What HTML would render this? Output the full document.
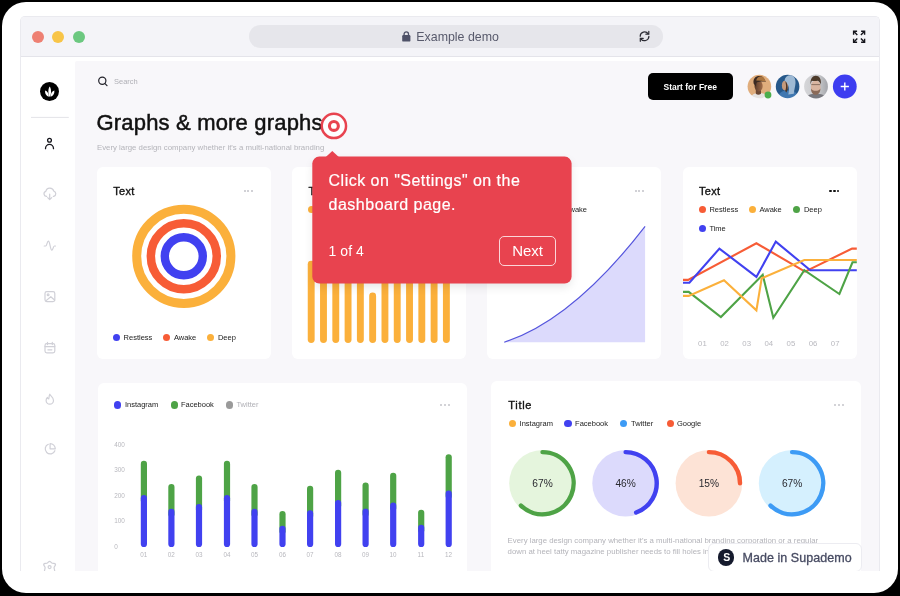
<!DOCTYPE html>
<html><head><meta charset="utf-8">
<style>
*{margin:0;padding:0;box-sizing:border-box}
html,body{width:900px;height:596px;overflow:hidden;background:#000;font-family:"Liberation Sans",sans-serif;}
#stage{position:absolute;left:2px;top:2.300px;width:896.200px;height:590.700px;background:#fff;border-radius:24px;}
#win{position:absolute;left:20px;top:16px;width:859.500px;height:555px;background:#fff;border:1px solid #eaeaef;border-bottom:none;border-radius:5px 5px 0 0;overflow:hidden;}
#bar{position:absolute;left:0;top:0;width:100%;height:40px;background:#f4f4f8;border-bottom:1px solid #e4e4ea;}
#main{position:absolute;left:54.200px;top:43.800px;width:810px;height:520px;background:#f8f7fa;border-radius:2px 0 0 0;}
.card{position:absolute;background:#fff;}
.t{position:absolute;white-space:nowrap;line-height:1}
svg{position:absolute;left:0;top:0;overflow:visible}
#layer{position:absolute;left:0;top:0;width:900px;height:571px;overflow:hidden;will-change:transform}
</style></head><body>
<div id="stage"></div>
<div id="win"><div id="bar"></div><div id="main"></div></div>
<div id="layer">

<div style="position:absolute;left:32.2px;top:30.6px;width:12px;height:12px;border-radius:50%;background:#ee8073"></div>
<div style="position:absolute;left:52.4px;top:30.6px;width:12px;height:12px;border-radius:50%;background:#f8c548"></div>
<div style="position:absolute;left:72.5px;top:30.6px;width:12px;height:12px;border-radius:50%;background:#6cc880"></div>
<div style="position:absolute;left:249px;top:25px;width:413.5px;height:22.7px;border-radius:11.4px;background:#e6e6eb"></div>
<div class="t" style="left:416.3px;top:30.9px;font-size:12.4px;color:#585a6c;font-weight:normal;letter-spacing:0px;">Example demo</div>
<svg width="900" height="596"><g fill="#4f5268"><rect x="402.2" y="35" width="8.200" height="6.600" rx="1.200"/><path d="M404.100 35.500v-1.400a2.200 2.200 0 0 1 4.400 0v1.400" fill="none" stroke="#4f5268" stroke-width="1.300"/></g><g fill="none" stroke="#2b2b33" stroke-width="1.200" stroke-linecap="round"><path d="M640.200 36.300a4.400 4.400 0 0 1 8-2.500"/><path d="M648.900 36.300a4.400 4.400 0 0 1-8 2.500"/><path d="M648.800 31.300v2.900h-2.900"/><path d="M640.300 41.300v-2.900h2.900"/></g><g fill="none" stroke="#15151c" stroke-width="1.400" transform="translate(0.100 0.700)"><path d="M853.500 34v-3.500h3.500M864.500 34v-3.500h-3.500M853.500 38v3.500h3.500M864.500 38v3.500h-3.500"/><path d="M853.800 30.800l3.400 3.400M864.200 30.800l-3.400 3.400M853.800 41.200l3.400-3.400M864.200 41.200l-3.400-3.400"/></g></svg>
<div style="position:absolute;left:40.2px;top:82.1px;width:19.0px;height:19.0px;border-radius:50%;background:#000"></div>
<svg width="900" height="596"><g fill="#fff"><path d="M49.700 86.400C51.500 89 51.500 94 49.700 97.100C47.900 94 47.900 89 49.700 86.400Z"/><path d="M45 90.400Q48.800 91.600 48.900 96.700Q44.800 95.300 45 90.400Z"/><path d="M54.400 90.400Q50.600 91.600 50.500 96.700Q54.600 95.300 54.400 90.400Z"/></g><line x1="31" y1="117.400" x2="68.800" y2="117.400" stroke="#e3e3e8" stroke-width="1"/><g fill="none" stroke="#15151c" stroke-width="1.300" stroke-linecap="round"><circle cx="49.500" cy="140.200" r="1.900"/><path d="M45.500 148.700a4 4.300 0 0 1 8 0"/></g><g fill="none" stroke="#d0d0d7" stroke-width="1.200" stroke-linecap="round" stroke-linejoin="round" transform="translate(0.300 0.400)"><path d="M46.400 195.900h-0.300a2.500 2.500 0 0 1-0.600-4.900a4.100 4.100 0 0 1 8-0.300a2.700 2.700 0 0 1 0 5.200h-0.500"/><path d="M49.400 193.800v5.200M47.400 197.200l2 2l2-2"/><path d="M43.900 245.600h1.500c1.300 0 1.300-4.800 2.700-4.800c1.600 0 1.800 9 3.400 9c1.300 0 1.300-4.200 2.600-4.200h1.100"/><rect x="44.700" y="291.200" width="9.800" height="10" rx="1.800"/><circle cx="47.800" cy="294.400" r="0.900"/><path d="M45.500 300.500l5-4.200l4 3.500"/><rect x="44.700" y="343.200" width="9.800" height="9.300" rx="1.800"/><path d="M44.700 346.200h9.800M47.200 341.900v2.300M52 341.900v2.300M47.600 349.400h4"/><path d="M49.500 393.800c0.500 1.800 3.700 3 3.700 6.200a3.700 3.700 0 0 1-7.400 0c0-1.300 0.500-2.200 1.300-3c0.200 1 0.900 1.600 1.300 1.600c0.600-1.500 0.100-3.100 1.100-4.800z"/><path d="M54.600 450.300a5 5 0 1 1-6.600-6.400"/><path d="M49.800 443.200a5.200 5.200 0 0 1 5.200 5.200h-5.200z"/><path d="M49.300 560.900c1 0 1.400 1.600 2.600 2c1.200 0.400 3-0.400 3.300 1c0.200 1.500-1.500 2-1.400 3.400c0 1 0.600 2 0.600 3.400M49.300 560.900c-1 0-1.400 1.600-2.600 2c-1.200 0.400-3-0.400-3.300 1c-0.200 1.500 1.500 2 1.400 3.400c0 1-0.600 2-0.600 3.400"/><circle cx="49.300" cy="566.700" r="1.500"/></g></svg>
<svg width="900" height="596"><g fill="none" stroke="#22222a" stroke-width="1.200" stroke-linecap="round"><circle cx="102.300" cy="80.800" r="3.600"/><path d="M105 83.600l2 2"/></g></svg>
<div class="t" style="left:114px;top:77.5px;font-size:7.5px;color:#b0b0b6;font-weight:normal;letter-spacing:0px;">Search</div>
<div class="t" style="left:96.5px;top:112px;font-size:22px;color:#111;font-weight:normal;letter-spacing:0.18px;-webkit-text-stroke:0.5px #111;">Graphs &amp; more graphs</div>
<div class="t" style="left:97px;top:143.5px;font-size:7.8px;color:#b4b4ba;font-weight:normal;letter-spacing:0px;">Every large design company whether it's a multi-national branding</div>
<div style="position:absolute;left:648px;top:73.300px;width:85.400px;height:26.500px;border-radius:5px;background:#000"></div>
<div class="t" style="left:663.5px;top:82.5px;font-size:8.5px;color:#fff;font-weight:bold;letter-spacing:0px;">Start for Free</div>
<svg width="900" height="596"><defs><clipPath id="c1"><circle cx="759.400" cy="86.500" r="11.800"/></clipPath><clipPath id="c2"><circle cx="787.600" cy="86.500" r="11.800"/></clipPath><clipPath id="c3"><circle cx="816" cy="86.500" r="11.900"/></clipPath><filter id="bl" x="-20%" y="-20%" width="140%" height="140%"><feGaussianBlur stdDeviation="0.55"/></filter><linearGradient id="g3" x1="0" x2="1"><stop offset="0" stop-color="#d6d6d9"/><stop offset="0.6" stop-color="#c6c7ca"/><stop offset="1" stop-color="#9fa1a7"/></linearGradient><linearGradient id="g1" x1="0" x2="1"><stop offset="0" stop-color="#5a3a28"/><stop offset="1" stop-color="#a06c4a"/></linearGradient></defs><g clip-path="url(#c1)"><g filter="url(#bl)"><rect x="747" y="74" width="25" height="25" fill="#e0ad7c"/><path d="M750.500 99c0.500-4.500 4-6 8.500-6.300c4.500 0.300 8 1.800 8.500 6.300z" fill="#e6e3e0"/><path d="M755.800 89h5.200v4.800c-1.800 1.200-3.600 1.200-5.200 0z" fill="#6b4632"/><ellipse cx="758.600" cy="86" rx="4.100" ry="5.400" fill="url(#g1)"/><path d="M753.600 83.500c-0.800-4.800 2-7.400 5.600-7.400c3 0 5 1.500 5.600 4.200l1.200 1.500c-3-0.500-7-0.300-9 0.500c-0.800 0.400-0.800 3-1 4.500z" fill="#3a2a22"/><path d="M756.200 80.600c0.600-2.800 2.200-4.200 4.400-4.200c2.400 0 3.900 1.500 4.300 3.700l1.100 1.500c-3.200-0.600-6.600-0.900-9.800-1z" fill="#a9743f"/></g></g><g clip-path="url(#c2)"><g filter="url(#bl)"><rect x="775" y="74" width="26" height="26" fill="#27588a"/><path d="M777 99c1-5 4-7.500 8-8.500l8 0c3 1.500 5 4.500 5.500 8.500z" fill="#3f77b0"/><ellipse cx="785" cy="85.600" rx="3.100" ry="4.800" fill="#c49a7c"/><path d="M784.500 80.600c0.500-3.500 3-5.300 6-5.300c3.500 0.300 5.300 3.500 5 8c-0.300 4-1.500 7-1.700 10.500l-5.500 0.800c0.600-2.600 0.800-5 0.400-7.400c-0.400-2.600-2.300-4.600-4.200-6.600z" fill="#9db9d4"/><path d="M785.400 81c1.500 1.500 2.300 4 2.300 6.500c0 2-0.500 3.500-1.300 5l-1.200-1.500c0.800-2 1-4 0.800-6c-0.200-1.500-0.500-2.700-0.600-4z" fill="#4a3428"/></g></g><g clip-path="url(#c3)"><g filter="url(#bl)"><rect x="804" y="74" width="25" height="25" fill="url(#g3)"/><path d="M806 99c0.500-3 3-4.500 6-5h8c3 0.500 5.500 2 6 5z" fill="#77777d"/><ellipse cx="815.700" cy="87" rx="4.900" ry="6.600" fill="#d9b5a0"/><path d="M810.600 84.500c-0.600-5.500 2-8.800 5.200-8.800c3.400 0 5.800 3.300 5 8.800c-0.800-2.200-1.800-3.300-3-3.800c-2 0.300-4.500 0.300-6 0c-0.600 1-1 2.300-1.200 3.800z" fill="#4d3a2c"/><path d="M811 88.500c0.800 1.500 2.500 2.300 4.700 2.300s3.900-0.800 4.700-2.300c0 4-2 6.300-4.700 6.300s-4.700-2.300-4.700-6.300z" fill="#8a6a58"/><path d="M811.300 84.600h8.800" stroke="#6b5548" stroke-width="0.700" fill="none"/></g></g><circle cx="768" cy="95" r="3.400" fill="#4cae4c"/><circle cx="844.800" cy="86.500" r="11.900" fill="#3d3df0"/><path d="M844.800 82.400v8.200M840.700 86.500h8.200" stroke="#fff" stroke-width="1.400" fill="none"/></svg>
<div class="card" style="left:96.5px;top:167px;width:174.5px;height:191.5px;border-radius:6px"></div>
<div class="card" style="left:291.7px;top:167px;width:174.3px;height:191.5px;border-radius:6px"></div>
<div class="card" style="left:487px;top:167px;width:174.29999999999995px;height:191.5px;border-radius:6px"></div>
<div class="card" style="left:683px;top:167px;width:173.70000000000005px;height:191.5px;border-radius:6px"></div>
<div class="card" style="left:97.6px;top:382.6px;width:369.9px;height:197.39999999999998px;border-radius:6px"></div>
<div class="card" style="left:491px;top:381px;width:370.29999999999995px;height:199px;border-radius:6px"></div>
<div class="t" style="left:113.3px;top:186.2px;font-size:11px;color:#111;font-weight:normal;letter-spacing:0.3px;-webkit-text-stroke:0.35px #111;">Text</div>
<div style="position:absolute;left:243.54999999999998px;top:190.14999999999998px;width:2.1px;height:2.1px;border-radius:50%;background:#c2c2c9"></div>
<div style="position:absolute;left:247.35px;top:190.14999999999998px;width:2.1px;height:2.1px;border-radius:50%;background:#c2c2c9"></div>
<div style="position:absolute;left:251.14999999999998px;top:190.14999999999998px;width:2.1px;height:2.1px;border-radius:50%;background:#c2c2c9"></div>
<svg width="900" height="596"><g fill="none" stroke-width="9"><circle cx="183.800" cy="256.300" r="47.100" stroke="#fbb03b"/><circle cx="183.800" cy="256.300" r="32.950" stroke="#f75c36" stroke-width="8.500"/><circle cx="183.800" cy="256.300" r="19" stroke="#4141f0" stroke-width="8.400"/></g></svg>
<div style="position:absolute;left:112.5px;top:333.5px;width:7.4px;height:7.4px;border-radius:50%;background:#4141f0"></div>
<div class="t" style="left:123.6px;top:333.5px;font-size:7.5px;color:#222;font-weight:normal;letter-spacing:0px;">Restless</div>
<div style="position:absolute;left:162.8px;top:333.5px;width:7.4px;height:7.4px;border-radius:50%;background:#f75c36"></div>
<div class="t" style="left:173.9px;top:333.5px;font-size:7.5px;color:#222;font-weight:normal;letter-spacing:0px;">Awake</div>
<div style="position:absolute;left:207.10000000000002px;top:333.5px;width:7.4px;height:7.4px;border-radius:50%;background:#fbb03b"></div>
<div class="t" style="left:217.9px;top:333.5px;font-size:7.5px;color:#222;font-weight:normal;letter-spacing:0px;">Deep</div>
<div class="t" style="left:308.4px;top:186.2px;font-size:11px;color:#111;font-weight:normal;letter-spacing:0.3px;-webkit-text-stroke:0.35px #111;">Text</div>
<div style="position:absolute;left:307.8px;top:205.60000000000002px;width:7.4px;height:7.4px;border-radius:50%;background:#fbb03b"></div>
<svg width="900" height="596"><g stroke="#fbb03b" stroke-width="6.900" stroke-linecap="round"><line x1="311.20" y1="264.15" x2="311.20" y2="339.45"/><line x1="323.49" y1="258.45" x2="323.49" y2="339.45"/><line x1="335.78" y1="253.45" x2="335.78" y2="339.45"/><line x1="348.07" y1="261.45" x2="348.07" y2="339.45"/><line x1="360.36" y1="265.45" x2="360.36" y2="339.45"/><line x1="372.65" y1="295.95" x2="372.65" y2="339.45"/><line x1="384.94" y1="253.45" x2="384.94" y2="339.45"/><line x1="397.23" y1="258.45" x2="397.23" y2="339.45"/><line x1="409.52" y1="265.45" x2="409.52" y2="339.45"/><line x1="421.81" y1="261.45" x2="421.81" y2="339.45"/><line x1="434.10" y1="255.45" x2="434.10" y2="339.45"/><line x1="446.39" y1="263.45" x2="446.39" y2="339.45"/></g></svg>
<div class="t" style="left:564.6px;top:206px;font-size:7.5px;color:#222;font-weight:normal;letter-spacing:0px;">Awake</div>
<div style="position:absolute;left:634.5500000000001px;top:190.14999999999998px;width:2.1px;height:2.1px;border-radius:50%;background:#c2c2c9"></div>
<div style="position:absolute;left:638.35px;top:190.14999999999998px;width:2.1px;height:2.1px;border-radius:50%;background:#c2c2c9"></div>
<div style="position:absolute;left:642.1500000000001px;top:190.14999999999998px;width:2.1px;height:2.1px;border-radius:50%;background:#c2c2c9"></div>
<svg width="900" height="596"><path d="M504.200 342.200Q572.600 320.200 645.100 226.400V342.200z" fill="#dcdafc"/><path d="M504.200 342.200Q572.600 320.200 645.100 226.400" fill="none" stroke="#5555dd" stroke-width="1.200"/></svg>
<div class="t" style="left:699px;top:186.2px;font-size:11px;color:#111;font-weight:normal;letter-spacing:0.3px;-webkit-text-stroke:0.35px #111;">Text</div>
<div style="position:absolute;left:829.35px;top:189.95px;width:2.5px;height:2.5px;border-radius:50%;background:#111"></div>
<div style="position:absolute;left:833.15px;top:189.95px;width:2.5px;height:2.5px;border-radius:50%;background:#111"></div>
<div style="position:absolute;left:836.95px;top:189.95px;width:2.5px;height:2.5px;border-radius:50%;background:#111"></div>
<div style="position:absolute;left:698.5999999999999px;top:205.70000000000002px;width:7.4px;height:7.4px;border-radius:50%;background:#f75c36"></div>
<div class="t" style="left:709.4px;top:205.7px;font-size:7.5px;color:#222;font-weight:normal;letter-spacing:0px;">Restless</div>
<div style="position:absolute;left:748.6999999999999px;top:205.70000000000002px;width:7.4px;height:7.4px;border-radius:50%;background:#fbb03b"></div>
<div class="t" style="left:759.4px;top:205.7px;font-size:7.5px;color:#222;font-weight:normal;letter-spacing:0px;">Awake</div>
<div style="position:absolute;left:793.0999999999999px;top:205.70000000000002px;width:7.4px;height:7.4px;border-radius:50%;background:#4ea346"></div>
<div class="t" style="left:803.9px;top:205.7px;font-size:7.5px;color:#222;font-weight:normal;letter-spacing:0px;">Deep</div>
<div style="position:absolute;left:698.5999999999999px;top:224.70000000000002px;width:7.4px;height:7.4px;border-radius:50%;background:#4141f0"></div>
<div class="t" style="left:709.4px;top:224.7px;font-size:7.5px;color:#222;font-weight:normal;letter-spacing:0px;">Time</div>
<svg width="900" height="596"><g fill="none" stroke-width="2.100" stroke-linejoin="miter"><polyline stroke="#f75c36" points="683,279.9 688.1,279.9 756.4,243.3 805,271.6 852.1,248.6 856.8,248.6"/><polyline stroke="#4141f0" points="683,282.8 689.4,282.8 719.4,248.6 756.4,276.9 775.8,241.6 810.3,270.2 856.8,270.2"/><polyline stroke="#4ea346" points="683,291.9 688.7,291.9 720.9,317.1 762.7,274.8 773.3,317.7 804.3,270.2 839.4,294 852.5,262.3 856.8,262.3"/><polyline stroke="#fbb03b" points="683,295.9 688.7,295.9 724,280.3 756.4,310.3 761.7,278.2 804.3,260 856.8,260"/></g></svg>
<div class="t" style="left:698.1px;top:339.8px;font-size:7.8px;color:#b9b9bf;font-weight:normal;letter-spacing:0px;">01</div>
<div class="t" style="left:720.22px;top:339.8px;font-size:7.8px;color:#b9b9bf;font-weight:normal;letter-spacing:0px;">02</div>
<div class="t" style="left:742.34px;top:339.8px;font-size:7.8px;color:#b9b9bf;font-weight:normal;letter-spacing:0px;">03</div>
<div class="t" style="left:764.46px;top:339.8px;font-size:7.8px;color:#b9b9bf;font-weight:normal;letter-spacing:0px;">04</div>
<div class="t" style="left:786.58px;top:339.8px;font-size:7.8px;color:#b9b9bf;font-weight:normal;letter-spacing:0px;">05</div>
<div class="t" style="left:808.7px;top:339.8px;font-size:7.8px;color:#b9b9bf;font-weight:normal;letter-spacing:0px;">06</div>
<div class="t" style="left:830.82px;top:339.8px;font-size:7.8px;color:#b9b9bf;font-weight:normal;letter-spacing:0px;">07</div>
<div style="position:absolute;left:114.1px;top:401.2px;width:7.4px;height:7.4px;border-radius:50%;background:#4141f0"></div>
<div class="t" style="left:124.9px;top:401.2px;font-size:7.5px;color:#222;font-weight:normal;letter-spacing:0px;">Instagram</div>
<div style="position:absolute;left:170.5px;top:401.2px;width:7.4px;height:7.4px;border-radius:50%;background:#4ea346"></div>
<div class="t" style="left:180.9px;top:401.2px;font-size:7.5px;color:#222;font-weight:normal;letter-spacing:0px;">Facebook</div>
<div style="position:absolute;left:225.60000000000002px;top:401.2px;width:7.4px;height:7.4px;border-radius:50%;background:#9a9a9a"></div>
<div class="t" style="left:236.4px;top:401.2px;font-size:7.5px;color:#b0b0b6;font-weight:normal;letter-spacing:0px;">Twitter</div>
<div style="position:absolute;left:440.05px;top:404.25px;width:2.1px;height:2.1px;border-radius:50%;background:#c4c4ca"></div>
<div style="position:absolute;left:443.85px;top:404.25px;width:2.1px;height:2.1px;border-radius:50%;background:#c4c4ca"></div>
<div style="position:absolute;left:447.65000000000003px;top:404.25px;width:2.1px;height:2.1px;border-radius:50%;background:#c4c4ca"></div>
<div class="t" style="left:114.2px;top:441.8px;font-size:6.4px;color:#b8b8be;font-weight:normal;letter-spacing:0px;">400</div>
<div class="t" style="left:114.2px;top:467.25px;font-size:6.4px;color:#b8b8be;font-weight:normal;letter-spacing:0px;">300</div>
<div class="t" style="left:114.2px;top:492.7px;font-size:6.4px;color:#b8b8be;font-weight:normal;letter-spacing:0px;">200</div>
<div class="t" style="left:114.2px;top:518.15px;font-size:6.4px;color:#b8b8be;font-weight:normal;letter-spacing:0px;">100</div>
<div class="t" style="left:114.2px;top:543.6px;font-size:6.4px;color:#b8b8be;font-weight:normal;letter-spacing:0px;">0</div>
<svg width="900" height="596"><g stroke-width="6.200" stroke-linecap="round"><line stroke="#4ea346" x1="143.9" y1="463.9" x2="143.9" y2="500.6"/><line stroke="#4141f0" x1="143.9" y1="498.2" x2="143.9" y2="544.0"/><line stroke="#4ea346" x1="171.4" y1="487.0" x2="171.4" y2="514.3"/><line stroke="#4141f0" x1="171.4" y1="511.9" x2="171.4" y2="544.0"/><line stroke="#4ea346" x1="199.0" y1="478.6" x2="199.0" y2="509.4"/><line stroke="#4141f0" x1="199.0" y1="507.0" x2="199.0" y2="544.0"/><line stroke="#4ea346" x1="227.0" y1="463.9" x2="227.0" y2="500.6"/><line stroke="#4141f0" x1="227.0" y1="498.2" x2="227.0" y2="544.0"/><line stroke="#4ea346" x1="254.5" y1="487.0" x2="254.5" y2="514.3"/><line stroke="#4141f0" x1="254.5" y1="511.9" x2="254.5" y2="544.0"/><line stroke="#4ea346" x1="282.5" y1="514.2" x2="282.5" y2="531.2"/><line stroke="#4141f0" x1="282.5" y1="528.8" x2="282.5" y2="544.0"/><line stroke="#4ea346" x1="310.1" y1="488.8" x2="310.1" y2="515.7"/><line stroke="#4141f0" x1="310.1" y1="513.3" x2="310.1" y2="544.0"/><line stroke="#4ea346" x1="338.1" y1="472.8" x2="338.1" y2="505.4"/><line stroke="#4141f0" x1="338.1" y1="503.0" x2="338.1" y2="544.0"/><line stroke="#4ea346" x1="365.6" y1="485.7" x2="365.6" y2="513.9"/><line stroke="#4141f0" x1="365.6" y1="511.5" x2="365.6" y2="544.0"/><line stroke="#4ea346" x1="393.2" y1="475.9" x2="393.2" y2="508.1"/><line stroke="#4141f0" x1="393.2" y1="505.7" x2="393.2" y2="544.0"/><line stroke="#4ea346" x1="421.2" y1="512.8" x2="421.2" y2="530.3"/><line stroke="#4141f0" x1="421.2" y1="527.9" x2="421.2" y2="544.0"/><line stroke="#4ea346" x1="448.7" y1="457.3" x2="448.7" y2="496.1"/><line stroke="#4141f0" x1="448.7" y1="493.7" x2="448.7" y2="544.0"/></g></svg>
<div class="t" style="left:140.29999999999998px;top:551.5px;font-size:6.3px;color:#b8b8be;font-weight:normal;letter-spacing:0px;">01</div>
<div class="t" style="left:167.79999999999998px;top:551.5px;font-size:6.3px;color:#b8b8be;font-weight:normal;letter-spacing:0px;">02</div>
<div class="t" style="left:195.39999999999998px;top:551.5px;font-size:6.3px;color:#b8b8be;font-weight:normal;letter-spacing:0px;">03</div>
<div class="t" style="left:223.39999999999998px;top:551.5px;font-size:6.3px;color:#b8b8be;font-weight:normal;letter-spacing:0px;">04</div>
<div class="t" style="left:250.89999999999998px;top:551.5px;font-size:6.3px;color:#b8b8be;font-weight:normal;letter-spacing:0px;">05</div>
<div class="t" style="left:278.9px;top:551.5px;font-size:6.3px;color:#b8b8be;font-weight:normal;letter-spacing:0px;">06</div>
<div class="t" style="left:306.5px;top:551.5px;font-size:6.3px;color:#b8b8be;font-weight:normal;letter-spacing:0px;">07</div>
<div class="t" style="left:334.5px;top:551.5px;font-size:6.3px;color:#b8b8be;font-weight:normal;letter-spacing:0px;">08</div>
<div class="t" style="left:362.0px;top:551.5px;font-size:6.3px;color:#b8b8be;font-weight:normal;letter-spacing:0px;">09</div>
<div class="t" style="left:389.59999999999997px;top:551.5px;font-size:6.3px;color:#b8b8be;font-weight:normal;letter-spacing:0px;">10</div>
<div class="t" style="left:417.59999999999997px;top:551.5px;font-size:6.3px;color:#b8b8be;font-weight:normal;letter-spacing:0px;">11</div>
<div class="t" style="left:445.09999999999997px;top:551.5px;font-size:6.3px;color:#b8b8be;font-weight:normal;letter-spacing:0px;">12</div>
<div class="t" style="left:508.3px;top:400px;font-size:11px;color:#111;font-weight:normal;letter-spacing:0.7px;-webkit-text-stroke:0.35px #111;">Title</div>
<div style="position:absolute;left:834.0500000000001px;top:403.65px;width:2.1px;height:2.1px;border-radius:50%;background:#c4c4ca"></div>
<div style="position:absolute;left:837.85px;top:403.65px;width:2.1px;height:2.1px;border-radius:50%;background:#c4c4ca"></div>
<div style="position:absolute;left:841.6500000000001px;top:403.65px;width:2.1px;height:2.1px;border-radius:50%;background:#c4c4ca"></div>
<div style="position:absolute;left:508.7px;top:419.6px;width:7.4px;height:7.4px;border-radius:50%;background:#fbb03b"></div>
<div class="t" style="left:519.6px;top:419.6px;font-size:7.5px;color:#222;font-weight:normal;letter-spacing:0px;">Instagram</div>
<div style="position:absolute;left:564.3px;top:419.6px;width:7.4px;height:7.4px;border-radius:50%;background:#4141f0"></div>
<div class="t" style="left:575.1px;top:419.6px;font-size:7.5px;color:#222;font-weight:normal;letter-spacing:0px;">Facebook</div>
<div style="position:absolute;left:619.9px;top:419.6px;width:7.4px;height:7.4px;border-radius:50%;background:#3d9bf5"></div>
<div class="t" style="left:631.1px;top:419.6px;font-size:7.5px;color:#222;font-weight:normal;letter-spacing:0px;">Twitter</div>
<div style="position:absolute;left:666.5px;top:419.6px;width:7.4px;height:7.4px;border-radius:50%;background:#f75c36"></div>
<div class="t" style="left:676.9px;top:419.6px;font-size:7.5px;color:#222;font-weight:normal;letter-spacing:0px;">Google</div>
<svg width="900" height="596"><circle cx="542.5" cy="483.2" r="33.3" fill="#e5f5dd"/><path d="M542.5 452.09999999999997A31.099999999999998 31.099999999999998 0 1 1 520.93 505.60" fill="none" stroke="#4ea346" stroke-width="4.400" stroke-linecap="round"/><circle cx="625.6" cy="483.2" r="33.3" fill="#dcdafc"/><path d="M625.6 452.09999999999997A31.099999999999998 31.099999999999998 0 0 1 636.13 512.46" fill="none" stroke="#4141f0" stroke-width="4.400" stroke-linecap="round"/><circle cx="708.9" cy="483.2" r="33.3" fill="#fde3d6"/><path d="M708.9 452.09999999999997A31.099999999999998 31.099999999999998 0 0 1 740.00 483.20" fill="none" stroke="#f75c36" stroke-width="4.400" stroke-linecap="round"/><circle cx="792.1" cy="483.2" r="33.3" fill="#d5f0fe"/><path d="M792.1 452.09999999999997A31.099999999999998 31.099999999999998 0 1 1 770.53 505.60" fill="none" stroke="#3d9bf5" stroke-width="4.400" stroke-linecap="round"/></svg>
<div class="t" style="left:532.3px;top:479.2px;font-size:10.2px;color:#2a2a30;font-weight:normal;letter-spacing:0px;">67%</div>
<div class="t" style="left:615.4px;top:479.2px;font-size:10.2px;color:#2a2a30;font-weight:normal;letter-spacing:0px;">46%</div>
<div class="t" style="left:698.6999999999999px;top:479.2px;font-size:10.2px;color:#2a2a30;font-weight:normal;letter-spacing:0px;">15%</div>
<div class="t" style="left:781.9px;top:479.2px;font-size:10.2px;color:#2a2a30;font-weight:normal;letter-spacing:0px;">67%</div>
<div class="t" style="left:507.6px;top:537px;font-size:7.8px;color:#b4b4ba;font-weight:normal;letter-spacing:0px;">Every large design company whether it's a multi-national branding corporation or a regular</div>
<div class="t" style="left:507.6px;top:547.5px;font-size:7.8px;color:#b4b4ba;font-weight:normal;letter-spacing:0px;">down at heel tatty magazine publisher needs to fill holes in the workforce</div>
<svg width="900" height="596"><circle cx="333.900" cy="125.900" r="12.150" fill="rgba(255,255,255,0.72)" stroke="#e8434f" stroke-width="2.500"/><circle cx="333.900" cy="125.900" r="4.450" fill="#fff" stroke="#e8434f" stroke-width="3.100"/></svg>
<div style="position:absolute;left:313px;top:157px;width:258px;height:126px;border-radius:7px;background:#e8434f;box-shadow:0 4px 10px rgba(0,0,0,0.10)"></div>
<svg width="900" height="596"><rect x="312.300" y="156.600" width="259.300" height="127" rx="7" fill="#e8434f"/></svg>
<svg width="900" height="596"><path d="M325.800 157l6.500-5.900l6.500 5.900z" fill="#e8434f"/></svg>
<div class="t" style="left:328.6px;top:173.2px;font-size:16px;color:#fff;font-weight:normal;letter-spacing:0.47px;-webkit-text-stroke:0.2px #fff;">Click on "Settings" on the</div>
<div class="t" style="left:328.6px;top:197.2px;font-size:16px;color:#fff;font-weight:normal;letter-spacing:0.49px;-webkit-text-stroke:0.2px #fff;">dashboard page.</div>
<div class="t" style="left:328.6px;top:243.8px;font-size:14px;color:#fff;font-weight:normal;letter-spacing:0.05px;">1 of 4</div>
<div style="position:absolute;left:499.100px;top:236.300px;width:57px;height:29.600px;border-radius:5px;border:1px solid #fbd5d8"></div>
<div class="t" style="left:512.3px;top:243px;font-size:15px;color:#fff;font-weight:normal;letter-spacing:-0.05px;">Next</div>
<div style="position:absolute;left:707.600px;top:543.400px;width:154.600px;height:28.400px;border-radius:6px;background:#fff;border:1px solid #ececf1"></div>
<div style="position:absolute;left:718.0px;top:549.1999999999999px;width:16.4px;height:16.4px;border-radius:50%;background:#151a2d"></div>
<div class="t" style="left:723.3px;top:552.4px;font-size:10.5px;color:#fff;font-weight:bold;letter-spacing:0px;font-family:"Liberation Serif",serif;">S</div>
<div class="t" style="left:742.6px;top:551.6px;font-size:12.5px;color:#474b62;font-weight:normal;letter-spacing:0.04px;-webkit-text-stroke:0.3px #474b62;">Made in Supademo</div>
</div></body></html>
